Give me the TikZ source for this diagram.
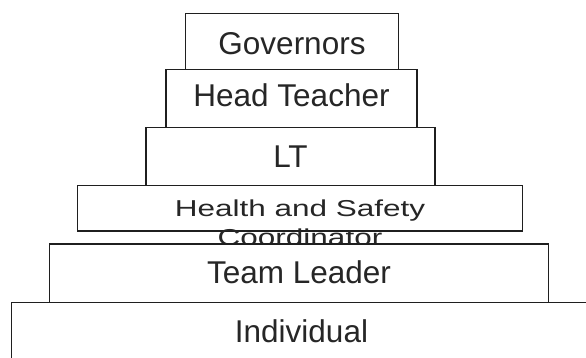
\documentclass[tikz,border=0pt]{standalone}
\usepackage{fontspec}
\setmainfont{Liberation Sans}
% move a label up or down inside its box without changing the box
\newcommand{\nudge}[2]{\raisebox{#1}[\height][\depth]{#2}}
\begin{document}
\begin{tikzpicture}[x=1pt,y=-1pt,
  tier/.style={draw=black!88, line width=1.4pt, fill=white, inner sep=0pt,
    outer sep=0pt, anchor=north west,
    font=\fontsize{31.5}{38}\selectfont, text=black!85},
  squashed/.style={anchor=north, inner sep=0pt, align=center,
    yscale=0.73, transform shape,
    font=\fontsize{31.5}{40}\selectfont, text=black!85}]
\useasboundingbox (0,0) rectangle (586,358);
\clip (0,0) rectangle (586,358);

% stacked tiers, drawn from the top down so each lower box covers the one above
\node[tier, minimum width=213pt, minimum height=56pt] (gov) at (185.5,13.5) {\nudge{-2.5pt}{Governors}};
\node[tier, minimum width=251pt, minimum height=58pt] (head) at (166,69.5) {\nudge{3pt}{Head Teacher}};
\node[tier, minimum width=289pt, minimum height=58pt] (lt) at (146,127.5) {LT};
\node[tier, minimum width=445pt, minimum height=45.5pt] (hs) at (77.5,185.5) {};
\node[squashed] (hstext) at (300,199.5) {Health and Safety\\Coordinator};
\node[tier, minimum width=499pt, minimum height=58.5pt] (team) at (49.5,244) {\nudge{1.5pt}{Team Leader}};
\node[tier, minimum width=580pt, minimum height=60pt] (ind) at (11.5,302.5) {\nudge{1.5pt}{Individual}};
\end{tikzpicture}
\end{document}
